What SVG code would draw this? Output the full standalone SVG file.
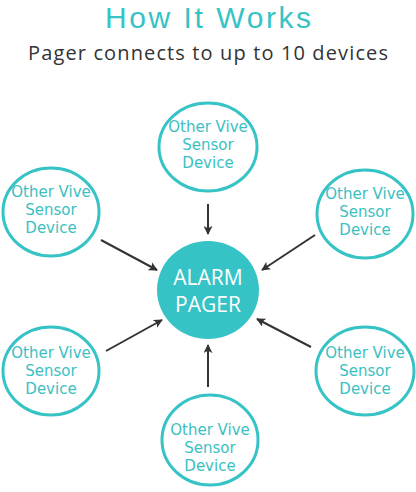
<svg xmlns="http://www.w3.org/2000/svg" width="416" height="492" viewBox="0 0 416 492">
<style>
.t{font-family:"Open Sans","Noto Sans",sans-serif;text-anchor:middle}
.ring{fill:#fff;stroke:#36c3c6;stroke-width:3}
.lbl{font-family:"DejaVu Sans","Liberation Sans",sans-serif;font-size:15px;fill:#3cbfc2}
.arr{stroke:#333;stroke-width:2;fill:none;marker-end:url(#ah)}
</style>
<defs>
<marker id="ah" viewBox="0 0 10 10" refX="9" refY="5" markerWidth="4.5" markerHeight="4.5" orient="auto" markerUnits="strokeWidth">
<path d="M0,0 L10,5 L0,10 L2.5,5 Z" fill="#333"/>
</marker>
</defs>
<rect width="416" height="492" fill="#fff"/>
<text x="208" y="28" font-family="'Liberation Sans',Arial,sans-serif" font-size="30" text-anchor="middle" fill="#36c3c6" textLength="206">How It Works</text>
<text class="t" x="208" y="60" font-size="20" fill="#333" textLength="360">Pager connects to up to 10 devices</text>
<g id="connectors">
<line class="arr" x1="208" y1="204" x2="208" y2="234"/>
<line class="arr" x1="101" y1="240" x2="157" y2="270"/>
<line class="arr" x1="315" y1="235" x2="262" y2="270"/>
<line class="arr" x1="106" y1="351" x2="162" y2="320"/>
<line class="arr" x1="311" y1="347" x2="257" y2="319"/>
<line class="arr" x1="208" y1="387" x2="208" y2="345"/>
</g>
<g id="pager">
<ellipse cx="208" cy="290" rx="51" ry="49" fill="#36c3c6"/>
<text class="t" x="208" y="285" font-size="21" fill="#fff">ALARM</text>
<text class="t" x="208" y="312" font-size="21" fill="#fff">PAGER</text>
</g>
<g id="node-top">
<ellipse class="ring" cx="208" cy="147" rx="49" ry="44"/>
<text class="t lbl" x="208" y="132">Other Vive</text>
<text class="t lbl" x="208" y="150">Sensor</text>
<text class="t lbl" x="208" y="168">Device</text>
</g>
<g id="node-left-top">
<ellipse class="ring" cx="51" cy="212" rx="48" ry="44"/>
<text class="t lbl" x="51" y="197">Other Vive</text>
<text class="t lbl" x="51" y="215">Sensor</text>
<text class="t lbl" x="51" y="233">Device</text>
</g>
<g id="node-right-top">
<ellipse class="ring" cx="365" cy="214" rx="48" ry="44"/>
<text class="t lbl" x="365" y="199">Other Vive</text>
<text class="t lbl" x="365" y="217">Sensor</text>
<text class="t lbl" x="365" y="235">Device</text>
</g>
<g id="node-left-bottom">
<ellipse class="ring" cx="51" cy="371" rx="48" ry="44"/>
<text class="t lbl" x="51" y="358">Other Vive</text>
<text class="t lbl" x="51" y="376">Sensor</text>
<text class="t lbl" x="51" y="394">Device</text>
</g>
<g id="node-right-bottom">
<ellipse class="ring" cx="365" cy="371" rx="49" ry="44"/>
<text class="t lbl" x="365" y="358">Other Vive</text>
<text class="t lbl" x="365" y="376">Sensor</text>
<text class="t lbl" x="365" y="394">Device</text>
</g>
<g id="node-bottom">
<ellipse class="ring" cx="210" cy="440" rx="48" ry="45"/>
<text class="t lbl" x="210" y="435">Other Vive</text>
<text class="t lbl" x="210" y="453">Sensor</text>
<text class="t lbl" x="210" y="471">Device</text>
</g>
</svg>
